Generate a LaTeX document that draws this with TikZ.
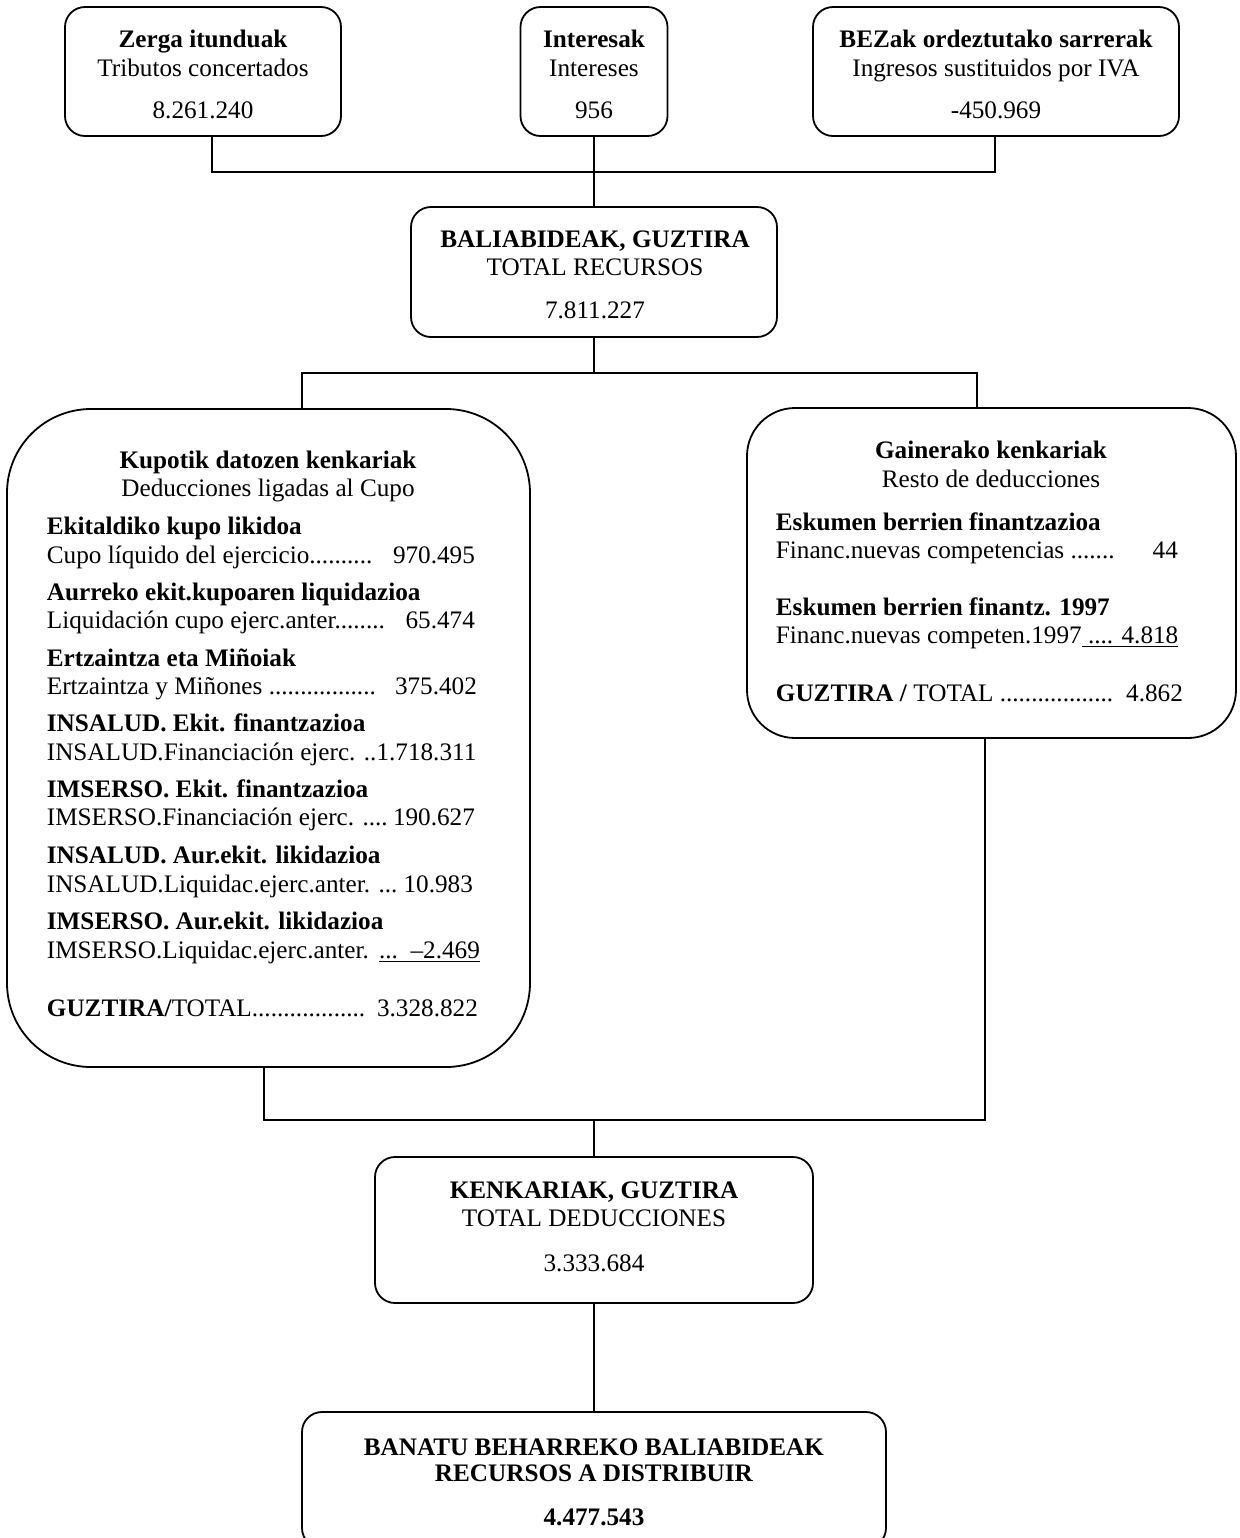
\documentclass[tikz,border=0pt]{standalone}
\usepackage{fontspec}
\setmainfont{Liberation Serif}
\begin{document}
\begin{tikzpicture}[x=0.5pt,y=-0.5pt,
  font=\fontsize{12.6pt}{14pt}\selectfont,
  line width=0.9pt,
  box/.style={draw, line width=0.9pt, rounded corners=10pt, inner sep=0pt},
  txt/.style={inner sep=0pt, anchor=base},
  ltxt/.style={inner sep=0pt, anchor=base west}]
\useasboundingbox (0,0) rectangle (1239,1538);
\clip (0,0) rectangle (1239,1538);

% boxes
\node[box, minimum width=138pt, minimum height=64.5pt] (b1) at (203,71.5) {};
\node[box, minimum width=73.5pt, minimum height=64.5pt] (b2) at (594,71.5) {};
\node[box, minimum width=183pt, minimum height=64.5pt] (b3) at (996,71.5) {};
\node[box, minimum width=183pt, minimum height=65pt] (bal) at (594,272) {};
\node[box, rounded corners=42pt, minimum width=261.5pt, minimum height=329pt] (lb) at (268.5,738) {};
\node[box, rounded corners=24pt, minimum width=244.5pt, minimum height=165pt] (rb) at (991.5,573) {};
\node[box, minimum width=219pt, minimum height=73pt] (ken) at (594,1230) {};
\node[box, minimum width=292pt, minimum height=68pt] (ban) at (594,1480) {};

% junction coordinates
\coordinate (c1) at (212,172);
\coordinate (c3) at (995,172);
\coordinate (cL) at (302,373);
\coordinate (cR) at (977,373);
\coordinate (dL) at (264,1120);
\coordinate (dR) at (985,1120);

% connectors
\draw (b1.south -| c1) -- (c1) -- (c3) -- (b3.south -| c3);
\draw (b2.south) -- (bal.north);
\draw (bal.south) -- (bal.south |- cL);
\draw (lb.north -| cL) -- (cL) -- (cR) -- (rb.north -| cR);
\draw (lb.south -| dL) -- (dL) -- (dR) -- (rb.south -| dR);
\draw (ken.north) -- (ken.north |- dL);
\draw (ken.south) -- (ban.north);

% top boxes text
\node[txt] (t1a) at (203,47) {\textbf{Zerga itunduak}};
\node[txt] (t1b) at (203,76) {Tributos concertados};
\node[txt] (t1c) at (203,118) {8.261.240};
\node[txt] (t2a) at (594,47) {\textbf{Interesak}};
\node[txt] (t2b) at (594,76) {Intereses};
\node[txt] (t2c) at (594,118) {956};
\node[txt] (t3a) at (996,47) {\textbf{BEZak ordeztutako sarrerak}};
\node[txt] (t3b) at (996,76) {Ingresos sustituidos por IVA};
\node[txt] (t3c) at (996,118) {-450.969};

% total resources
\node[txt] (tba) at (595,247) {\textbf{BALIABIDEAK, GUZTIRA}};
\node[txt] (tbb) at (595,275) {TOTAL RECURSOS};
\node[txt] (tbc) at (595,318) {7.811.227};

% left box
\node[txt] (tla) at (268,468) {\textbf{Kupotik datozen kenkariak}};
\node[txt] (tlb) at (268,496) {Deducciones ligadas al Cupo};
\node[ltxt] (l1a) at (46,534) {\textbf{Ekitaldiko kupo likidoa}};
\node[ltxt] (l1b) at (46,563) {\makebox[214pt][l]{Cupo líquido del ejercicio..........\hfill 970.495}};
\node[ltxt] (l2a) at (46,600) {\textbf{Aurreko ekit.kupoaren liquidazioa}};
\node[ltxt] (l2b) at (46,628) {\makebox[214pt][l]{Liquidación cupo ejerc.anter........\hfill 65.474}};
\node[ltxt] (l3a) at (46,666) {\textbf{Ertzaintza eta Miñoiak}};
\node[ltxt] (l3b) at (46,694) {\makebox[215pt][l]{Ertzaintza y Miñones .................\hfill 375.402}};
\node[ltxt] (l4a) at (46,731) {\textbf{INSALUD. Ekit. finantzazioa}};
\node[ltxt] (l4b) at (46,760) {\makebox[214pt][l]{INSALUD.Financiación ejerc. ..\hfill 1.718.311}};
\node[ltxt] (l5a) at (46,797) {\textbf{IMSERSO. Ekit. finantzazioa}};
\node[ltxt] (l5b) at (46,825) {\makebox[214pt][l]{IMSERSO.Financiación ejerc. ....\hfill 190.627}};
\node[ltxt] (l6a) at (46,863) {\textbf{INSALUD. Aur.ekit. likidazioa}};
\node[ltxt] (l6b) at (46,892) {\makebox[213pt][l]{INSALUD.Liquidac.ejerc.anter. ...\hfill 10.983}};
\node[ltxt] (l7a) at (46,929) {\textbf{IMSERSO. Aur.ekit. likidazioa}};
\node[ltxt] (l7b) at (46,958) {\makebox[216.5pt][l]{IMSERSO.Liquidac.ejerc.anter.\hfill\underline{...\ \ –2.469}}};
\node[ltxt] (l8) at (46,1016) {\makebox[215.5pt][l]{\textbf{GUZTIRA/}TOTAL..................\hfill 3.328.822}};

% right box
\node[txt] (tra) at (991,458) {\textbf{Gainerako kenkariak}};
\node[txt] (trb) at (991,487) {Resto de deducciones};
\node[ltxt] (r1a) at (775,530) {\textbf{Eskumen berrien finantzazioa}};
\node[ltxt] (r1b) at (775,558) {\makebox[201pt][l]{Financ.nuevas competencias .......\hfill 44}};
\node[ltxt] (r2a) at (775,615) {\textbf{Eskumen berrien finantz. 1997}};
\node[ltxt] (r2b) at (775,643) {\makebox[201pt][l]{Financ.nuevas competen.1997\hfill\underline{\ .... 4.818}}};
\node[ltxt] (r3) at (775,701) {\makebox[203.5pt][l]{\textbf{GUZTIRA /} TOTAL ..................\hfill 4.862}};

% total deductions
\node[txt] (tka) at (594,1198) {\textbf{KENKARIAK, GUZTIRA}};
\node[txt] (tkb) at (594,1226) {TOTAL DEDUCCIONES};
\node[txt] (tkc) at (594,1271) {3.333.684};

% resources to distribute
\node[txt] (tna) at (594,1455) {\textbf{BANATU BEHARREKO BALIABIDEAK}};
\node[txt] (tnb) at (594,1481) {\textbf{RECURSOS A DISTRIBUIR}};
\node[txt] (tnc) at (594,1525) {\textbf{4.477.543}};
\end{tikzpicture}
\end{document}
